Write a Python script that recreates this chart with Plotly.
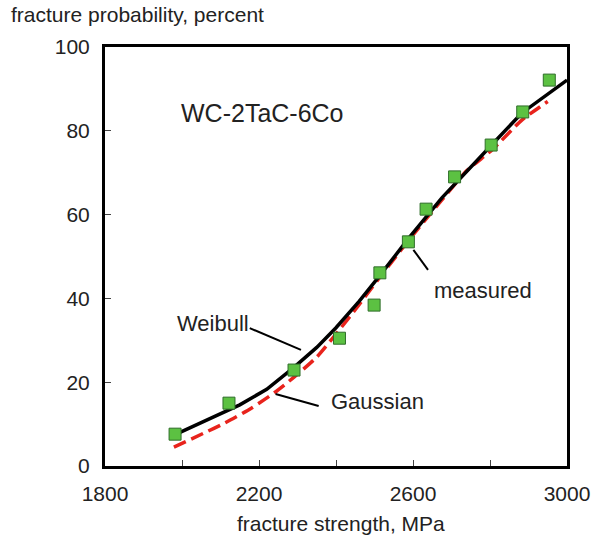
import plotly.graph_objects as go

# measured data (fracture strength MPa, fracture probability %)
meas_x = [1982, 2122, 2291, 2409, 2499, 2514, 2588, 2634, 2708, 2803, 2885, 2954]
meas_y = [7.6, 15.0, 22.9, 30.5, 38.4, 46.1, 53.5, 61.3, 69.0, 76.6, 84.5, 92.1]

# Weibull fit
weib_x = [1992, 2150, 2220, 2290, 2350, 2400, 2460, 2510, 2590, 2675, 2806, 2882, 3000]
weib_y = [7.9, 14.6, 18.3, 23.5, 28.3, 33.0, 39.3, 45.0, 54.5, 64.0, 76.8, 84.2, 92.1]

# Gaussian fit
gaus_x = [1979, 2112, 2180, 2240, 2291, 2350, 2400, 2460, 2510, 2590, 2675, 2740, 2806, 2882, 2950]
gaus_y = [4.5, 10.3, 13.8, 17.5, 21.2, 26.0, 31.5, 38.5, 44.6, 54.0, 63.5, 70.5, 75.5, 82.5, 87.0]

x_ticks = [1800, 2200, 2600, 3000]
y_ticks = [0, 20, 40, 60, 80, 100]

FONT = "Liberation Sans, Arial, sans-serif"

fig = go.Figure()
fig.add_trace(go.Scatter(x=gaus_x, y=gaus_y, mode="lines", line_shape="spline",
                         line=dict(color="#e8231c", width=3.5, dash="13px,6px", smoothing=0.6)))
fig.add_trace(go.Scatter(x=weib_x, y=weib_y, mode="lines",
                         line=dict(color="black", width=3.5)))
fig.add_trace(go.Scatter(x=meas_x, y=meas_y, mode="markers",
                         marker=dict(symbol="square", size=12, color="#5cc142",
                                     line=dict(color="#2f6e2a", width=1))))

# leader lines for labels
leaders = [((2601, 51.6), (2639, 46.8)),
           ((2176, 32.9), (2309, 27.7)),
           ((2243, 17.2), (2355, 14.3))]
for (x0, y0), (x1, y1) in leaders:
    fig.add_shape(type="line", x0=x0, y0=y0, x1=x1, y1=y1, xref="x", yref="y",
                  line=dict(color="black", width=2))

labels = [("WC-2TaC-6Co", 1992, 84.2, 25),
          ("measured", 2650, 42.0, 22),
          ("Weibull", 1982, 34.1, 22),
          ("Gaussian", 2383, 15.5, 22)]
for txt, x, y, s in labels:
    fig.add_annotation(x=x, y=y, text=txt, showarrow=False, xanchor="left",
                       yanchor="middle", font=dict(size=s, color="#222", family=FONT))

fig.add_annotation(xref="paper", yref="paper", x=-0.207, y=1.077,
                   text="fracture probability, percent", showarrow=False,
                   xanchor="left", yanchor="middle",
                   font=dict(size=21, color="#222", family=FONT))
fig.add_annotation(xref="paper", yref="paper", x=0.511, y=-0.137,
                   text="fracture strength, MPa", showarrow=False,
                   xanchor="center", yanchor="middle",
                   font=dict(size=21, color="#222", family=FONT))

fig.update_xaxes(range=[1800, 3000], tickvals=x_ticks, ticks="inside", ticklen=6,
                 tickwidth=1, tickcolor="#444",
                 minor=dict(dtick=200, ticks="inside", ticklen=6, tickcolor="#444"),
                 showline=True, linecolor="black", linewidth=3, mirror=True,
                 showgrid=False, zeroline=False, ticklabelstandoff=7,
                 tickfont=dict(size=21, color="#222", family=FONT))
fig.update_yaxes(range=[0, 100], tickvals=y_ticks, ticks="inside", ticklen=6,
                 tickwidth=1, tickcolor="#444",
                 showline=True, linecolor="black", linewidth=3, mirror=True,
                 showgrid=False, zeroline=False, ticklabelstandoff=8,
                 tickfont=dict(size=21, color="#222", family=FONT))

fig.update_layout(width=602, height=541, showlegend=False,
                  margin=dict(l=105, r=28, t=47, b=75),
                  plot_bgcolor="white", paper_bgcolor="white")

fig.write_html("out.html")
